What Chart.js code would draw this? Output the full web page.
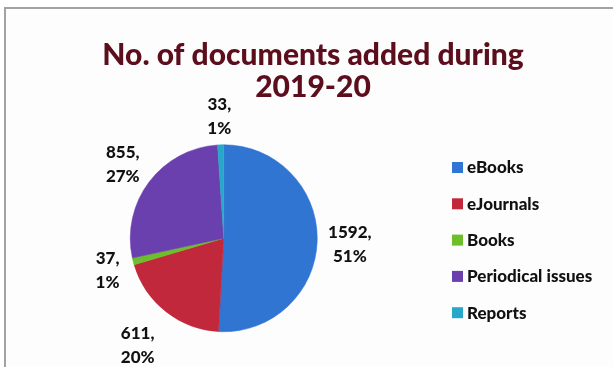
<!DOCTYPE html>
<html>
<head>
<meta charset="utf-8">
<script src="https://cdn.jsdelivr.net/npm/chart.js@4.4.1/dist/chart.umd.min.js"></script>
<style>
  html, body { margin: 0; padding: 0; background: #ffffff; }
  #wrap { position: relative; width: 613px; height: 367px; }
  canvas { display: block; }
</style>
</head>
<body>
<div id="wrap"><canvas id="chart" width="613" height="367"></canvas></div>
<script>
// Documents added during the year, by type
const categories = ['eBooks', 'eJournals', 'Books', 'Periodical issues', 'Reports'];
const documentCounts = [1592, 611, 37, 855, 33];
const titleLines = ['No. of documents added during', '2019-20'];

// Styling
const sliceColors = ['#2f75d1', '#c2283b', '#6cbf2b', '#6a3fae', '#28a8c8'];
const titleColor = '#5c0e1c';
const titleFont = '900 30px Lato';
const labelFont = '900 17px Lato';
const legendFont = '900 17px Lato';

// Where each value label sits, relative to its slice: distance as a multiple
// of the radius, and a small turn (degrees) away from the slice's mid-angle.
const labelPlacement = [
  { dist: 1.35, turn: 1.1 },
  { dist: 1.47, turn: 0.4 },
  { dist: 1.29, turn: -1.2 },
  { dist: 1.34, turn: -0.7 },
  { dist: 1.30, turn: -0.2 }
];

const total = documentCounts.reduce((a, b) => a + b, 0);

const overlay = {
  id: 'overlay',
  beforeDraw(chart) {
    const ctx = chart.ctx;
    const W = chart.width, H = chart.height;
    ctx.save();
    ctx.fillStyle = '#ffffff';
    ctx.fillRect(0, 0, W, H);
    ctx.fillStyle = '#fdfdfd';
    ctx.fillRect(6, 9, W - 6, H - 9);
    ctx.strokeStyle = '#a2a2a2';
    ctx.lineWidth = 2;
    ctx.beginPath();
    ctx.moveTo(5, H);
    ctx.lineTo(5, 8);
    ctx.lineTo(W, 8);
    ctx.stroke();
    ctx.restore();
  },
  afterDraw(chart) {
    const ctx = chart.ctx;
    ctx.save();

    // Title
    ctx.fillStyle = titleColor;
    ctx.font = titleFont;
    ctx.textAlign = 'center';
    ctx.textBaseline = 'alphabetic';
    ctx.fillText(titleLines[0], 313, 65);
    ctx.fillText(titleLines[1], 313, 97);

    // Value labels: "count," over "percent"
    const meta = chart.getDatasetMeta(0);
    const values = chart.data.datasets[0].data;
    ctx.fillStyle = '#111111';
    ctx.font = labelFont;
    ctx.textAlign = 'center';
    ctx.textBaseline = 'middle';
    meta.data.forEach((arc, i) => {
      const p = arc.getProps(['x', 'y', 'startAngle', 'endAngle', 'outerRadius'], true);
      const place = labelPlacement[i];
      const mid = (p.startAngle + p.endAngle) / 2 + place.turn * Math.PI / 180;
      const d = p.outerRadius * place.dist;
      const cx = p.x + Math.cos(mid) * d;
      const cy = p.y + Math.sin(mid) * d;
      const pct = Math.round(values[i] / total * 100) + '%';
      ctx.fillText(values[i] + ',', cx, cy - 12);
      ctx.fillText(pct, cx, cy + 12);
    });

    // Legend
    ctx.font = legendFont;
    ctx.textAlign = 'left';
    ctx.textBaseline = 'middle';
    const colors = chart.data.datasets[0].backgroundColor;
    chart.data.labels.forEach((label, i) => {
      const y = 167 + i * 36.3;
      ctx.fillStyle = colors[i];
      ctx.fillRect(452, y - 5, 11, 11);
      ctx.fillStyle = '#111111';
      ctx.fillText(label, 467, y + 1);
    });

    ctx.restore();
  }
};

new Chart(document.getElementById('chart'), {
  type: 'pie',
  data: {
    labels: categories,
    datasets: [{
      data: documentCounts,
      backgroundColor: sliceColors,
      borderColor: sliceColors,
      borderWidth: 0.5
    }]
  },
  options: {
    responsive: false,
    animation: false,
    devicePixelRatio: 1,
    layout: { padding: { left: 129.5, top: 144.5, right: 295, bottom: 35 } },
    plugins: {
      legend: { display: false },
      title: { display: false },
      tooltip: { enabled: false }
    }
  },
  plugins: [overlay]
});
</script>
</body>
</html>
